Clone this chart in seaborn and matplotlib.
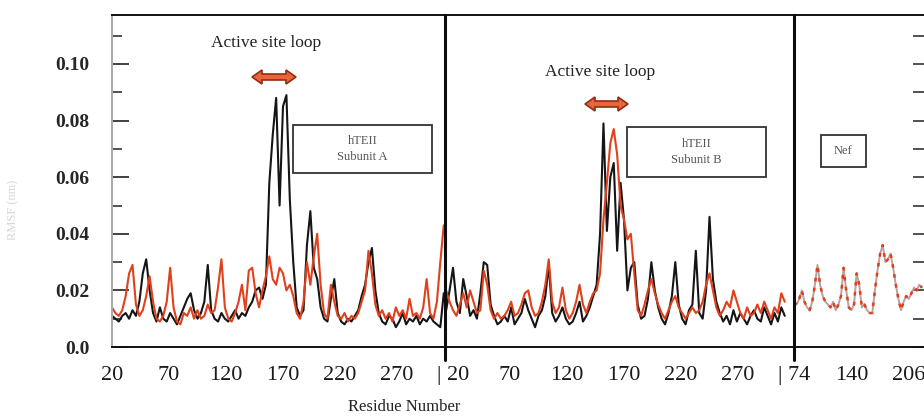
import numpy as np
import pandas as pd
import matplotlib
matplotlib.use("Agg")
import matplotlib.pyplot as plt
import seaborn as sns
from matplotlib.patches import Rectangle, Polygon
from matplotlib.lines import Line2D
from matplotlib.ticker import FixedLocator

# ---------------- data (RMSF values, residues every 3) -------------
a_start = 20
subA_black = [.011, .010, .009, .011, .012, .010, .013, .011, .016, .026, .031, .020, .012, .009,
              .014, .010, .009, .012, .010, .008, .011, .014, .017, .019, .013, .010, .012, .016,
              .029, .013, .010, .009, .012, .010, .009, .011, .013, .010, .012, .011, .014, .016,
              .020, .021, .017, .022, .058, .075, .088, .050, .085, .089, .052, .030, .014, .011,
              .013, .036, .048, .028, .024, .014, .010, .009, .017, .024, .012, .009, .008, .010,
              .009, .011, .013, .018, .022, .030, .035, .020, .012, .009, .008, .011, .010, .007,
              .009, .012, .008, .010, .009, .011, .008, .010, .009, .011, .009, .008, .007, .019]
subA_red = [.014, .012, .011, .013, .018, .026, .029, .015, .011, .013, .018, .025, .016, .010,
            .009, .011, .016, .028, .014, .009, .008, .012, .011, .014, .010, .013, .010, .011,
            .015, .012, .013, .021, .031, .014, .010, .009, .012, .016, .022, .013, .027, .028,
            .019, .014, .020, .025, .032, .024, .022, .028, .026, .020, .022, .018, .012, .010,
            .016, .030, .022, .032, .040, .022, .012, .010, .022, .016, .011, .010, .012, .009,
            .011, .010, .012, .016, .020, .034, .026, .015, .011, .013, .010, .012, .009, .014,
            .011, .013, .010, .017, .011, .012, .010, .014, .024, .012, .010, .016, .030, .043]

b_start = 14
subB_black = [.013, .020, .028, .016, .012, .024, .018, .011, .013, .010, .019, .030, .029, .015,
              .011, .008, .009, .011, .009, .014, .008, .010, .012, .017, .013, .010, .007, .011,
              .013, .018, .029, .012, .009, .011, .014, .010, .008, .009, .012, .016, .009, .011,
              .014, .018, .022, .040, .079, .041, .060, .065, .034, .058, .045, .020, .028, .030,
              .015, .010, .011, .017, .030, .020, .014, .010, .008, .012, .018, .030, .015, .010,
              .008, .013, .015, .034, .012, .010, .020, .046, .024, .016, .012, .009, .011, .008,
              .013, .009, .012, .010, .008, .011, .013, .010, .009, .014, .011, .008, .012, .009,
              .014, .011]
subB_red = [.020, .016, .013, .011, .015, .019, .014, .020, .016, .012, .013, .027, .022, .013,
            .010, .012, .010, .011, .013, .016, .011, .012, .015, .019, .020, .014, .011, .012,
            .016, .022, .031, .016, .012, .014, .021, .013, .010, .012, .016, .022, .015, .012,
            .016, .019, .020, .026, .045, .058, .072, .077, .068, .050, .045, .038, .040, .026,
            .013, .011, .015, .020, .024, .019, .015, .012, .010, .013, .016, .018, .014, .012,
            .010, .012, .014, .012, .013, .016, .022, .026, .020, .014, .011, .013, .016, .014,
            .020, .016, .012, .010, .014, .011, .012, .015, .012, .016, .013, .010, .014, .012,
            .019, .016]

nef_start = 74
nef_vals = [.016, .015, .017, .020, .016, .014, .013, .016, .022, .029, .022, .018, .016, .015,
            .014, .016, .013, .015, .018, .028, .020, .014, .013, .015, .026, .022, .014, .015,
            .013, .012, .012, .020, .027, .033, .036, .030, .031, .033, .028, .022, .017, .013,
            .016, .018, .017, .019, .021, .020, .022, .021]

y_ticks = [0.0, 0.02, 0.04, 0.06, 0.08, 0.10]
y_ticklabels = ["0.0", "0.02", "0.04", "0.06", "0.08", "0.10"]
a_ticks = [20, 70, 120, 170, 220, 270]
a_ticklabels = ["20", "70", "120", "170", "220", "270"]
b_ticks = [20, 70, 120, 170, 220, 270]
b_ticklabels = ["| 20", "70", "120", "170", "220", "270"]
n_ticks = [74, 140, 206]
n_ticklabels = ["| 74", "140", "206"]


def frame(start, series):
    rows = []
    for name, vals in series.items():
        res = start + 3 * np.arange(len(vals))
        rows.append(pd.DataFrame({"residue": res, "rmsf": vals, "series": name}))
    return pd.concat(rows, ignore_index=True)


dfA = frame(a_start, {"black": subA_black, "red": subA_red})
dfB = frame(b_start, {"black": subB_black, "red": subB_red})
dfN = frame(nef_start, {"gray": nef_vals, "red": nef_vals})

# ---------------- figure ----------------
sns.set_style("white")
plt.rcParams["font.family"] = ["Liberation Serif", "DejaVu Serif"]

W, H = 924, 416
fig = plt.figure(figsize=(W / 100, H / 100), dpi=100)


def px_axes(x0, x1, y0, y1):
    return fig.add_axes([x0 / W, 1 - y1 / H, (x1 - x0) / W, (y1 - y0) / H])


Y0, Y1 = 15, 347
ax1 = px_axes(112, 445, Y0, Y1)
ax2 = px_axes(445, 794, Y0, Y1)
ax3 = px_axes(794, 927, Y0, Y1)

pal = {"black": "#151515", "red": "#e0401c", "gray": "#b8a2a2"}

sns.lineplot(data=dfA, x="residue", y="rmsf", hue="series", palette=pal, ax=ax1,
             legend=False, lw=1.5, estimator=None)
sns.lineplot(data=dfB, x="residue", y="rmsf", hue="series", palette=pal, ax=ax2,
             legend=False, lw=1.5, estimator=None)
sns.lineplot(data=dfN[dfN.series == "gray"], x="residue", y="rmsf", color=pal["gray"],
             ax=ax3, legend=False, lw=1.4, estimator=None)
sns.lineplot(data=dfN[dfN.series == "red"], x="residue", y="rmsf", color=pal["red"],
             ax=ax3, legend=False, lw=1.8, estimator=None, dashes=False,
             linestyle=(0, (1.5, 2.5)))

ymax = (Y1 - Y0) / 28.3 * 0.01
ax1.set_xlim(20, 20 + 333 / 1.14)
ax2.set_xlim(20 - 8 / 1.14, 20 + 341 / 1.14)
ax3.set_xlim(74, 74 + 133 / 0.87)

for ax in (ax1, ax2, ax3):
    ax.set_ylim(0, ymax)
    ax.set_xlabel("")
    ax.set_ylabel("")
    ax.patch.set_alpha(0.0)
    for s in ax.spines.values():
        s.set_linewidth(1.4)
        s.set_color("#111111")
    ax.tick_params(axis="x", which="major", direction="in", length=10, width=1.1,
                   color="#555555", pad=14, labelsize=16)
    ax.tick_params(axis="x", which="minor", direction="in", length=5, width=1.1,
                   color="#555555")
    ax.tick_params(axis="y", which="both", left=False, right=False, labelleft=False)

ax1.spines["left"].set_color("#aaaaaa")
ax1.spines["right"].set_visible(False)
ax2.spines["left"].set_visible(False)
ax2.spines["right"].set_visible(False)
ax3.spines["left"].set_visible(False)

# y ticks on the left of panel 1
ax1.set_yticks(y_ticks)
ax1.set_yticklabels(y_ticklabels)
ax1.yaxis.set_minor_locator(FixedLocator([0.01, 0.03, 0.05, 0.07, 0.09, 0.11]))
ax1.tick_params(axis="y", which="major", left=True, labelleft=True, direction="in",
                length=12, width=1.3, color="#333333", pad=16, labelsize=14)
ax1.tick_params(axis="y", which="minor", left=True, direction="in", length=7, width=1.2,
                color="#333333")
for t in ax1.get_yticklabels():
    t.set_fontweight("bold")

# right-hand ticks of the Nef panel
ax3.set_yticks(y_ticks)
ax3.yaxis.set_minor_locator(FixedLocator([0.01, 0.03, 0.05, 0.07, 0.09, 0.11]))
ax3.tick_params(axis="y", which="both", right=True, left=False, labelleft=False,
                labelright=False, direction="in", length=10, width=1.2, color="#333333")

ax1.set_xticks(a_ticks)
ax1.set_xticklabels(a_ticklabels)
ax1.xaxis.set_minor_locator(FixedLocator([45, 95, 145, 195, 245, 295]))
ax2.set_xticks(b_ticks)
ax2.set_xticklabels(b_ticklabels)
ax2.xaxis.set_minor_locator(FixedLocator([45, 95, 145, 195, 245, 295]))
ax3.set_xticks(n_ticks)
ax3.set_xticklabels(n_ticklabels)
ax3.xaxis.set_minor_locator(FixedLocator([107, 173]))
for ax in (ax1, ax2, ax3):
    for t in ax.get_xticklabels():
        t.set_color("#1a1a1a")

# thick panel dividers extending a little below the axis (figure level, on top)
for xp in (445, 794):
    fig.add_artist(Line2D([xp / W, xp / W], [1 - 360 / H, 1 - Y0 / H],
                          transform=fig.transFigure, color="#0d0d0d", lw=2.2, zorder=10))


# annotations
def dbl_arrow(ax, x0px, x1px, ypx, ax_x0, ax_w):
    """Filled double-headed arrow; geometry in pixels, converted to axes fractions."""
    hl, hh, bh = 10, 7, 3
    pts_px = [(x0px, ypx), (x0px + hl, ypx - hh), (x0px + hl, ypx - bh), (x1px - hl, ypx - bh),
              (x1px - hl, ypx - hh), (x1px, ypx), (x1px - hl, ypx + hh), (x1px - hl, ypx + bh),
              (x0px + hl, ypx + bh), (x0px + hl, ypx + hh)]
    pts = [((x - ax_x0) / ax_w, (Y1 - y) / (Y1 - Y0)) for x, y in pts_px]
    ax.add_patch(Polygon(pts, closed=True, transform=ax.transAxes, fc="#e8653a",
                         ec="#8f2e12", lw=1.2, zorder=6, clip_on=False))


def label_box(ax, x0, x1, y0, y1, lines):
    ax.add_patch(Rectangle((x0, y1), x1 - x0, y0 - y1, transform=ax.transAxes,
                           fill=False, ec="#333333", lw=1.3, zorder=6))
    ax.text((x0 + x1) / 2, (y0 + y1) / 2, "\n".join(lines), transform=ax.transAxes,
            ha="center", va="center", fontsize=9, color="#555555", linespacing=1.5)


ax1.text(0.462, 0.916, "Active site loop", transform=ax1.transAxes, ha="center",
         va="center", fontsize=12.5, color="#222222")
dbl_arrow(ax1, 252, 296, 77, 112, 333)
label_box(ax1, 0.544, 0.961, 0.669, 0.524, ["hTEII", "Subunit A"])

ax2.text(0.444, 0.828, "Active site loop", transform=ax2.transAxes, ha="center",
         va="center", fontsize=12.5, color="#222222")
dbl_arrow(ax2, 585, 628, 104, 445, 349)
label_box(ax2, 0.521, 0.920, 0.663, 0.512, ["hTEII", "Subunit B"])

label_box(ax3, 0.203, 0.541, 0.639, 0.542, ["Nef"])

fig.text(404 / W, 1 - 407 / H, "Residue Number", ha="center", va="center",
         fontsize=12, color="#222222")
fig.text(13 / W, 1 - 210 / H, "RMSF (nm)", ha="center", va="center", rotation=90,
         fontsize=9, color="#d6d6d6")

fig.savefig("out.png", dpi=100, facecolor="white")
